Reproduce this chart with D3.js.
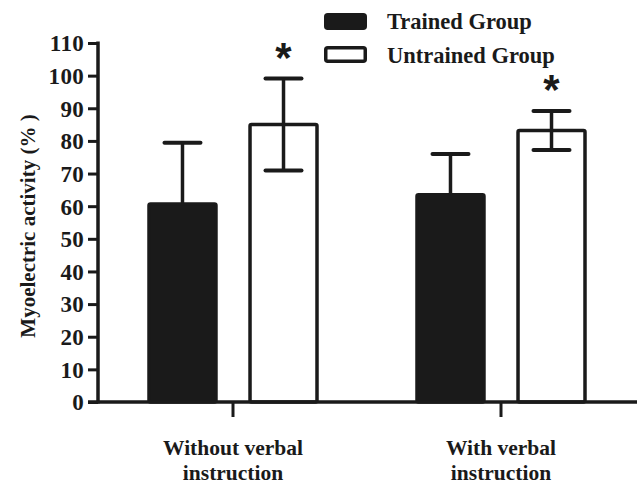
<!DOCTYPE html>
<html><head><meta charset="utf-8">
<script src="https://cdn.jsdelivr.net/npm/d3@7"></script>
<style>body{margin:0;background:#fff}svg{display:block}</style>
</head><body>
<script>
const categories = ["Without verbal|instruction", "With verbal|instruction"];
const seriesNames = ["Trained Group", "Untrained Group"];
const trainedMeans = [60.7, 63.5];
const trainedErr = [18.7, 12.5];
const untrainedMeans = [85, 83.2];
const untrainedErr = [14.1, 6];
const significant = [true, true];
const yTicks = [0,10,20,30,40,50,60,70,80,90,100,110];

const W = 641, H = 485;
const ink = "#1a1a1a";
const serif = "'Liberation Serif','Times New Roman',serif";
const svg = d3.select("body").append("svg").attr("width", W).attr("height", H);

const y = d3.scaleLinear().domain([0, 110]).range([402, 43]);
const groupCenters = [233, 501];
const x1 = d3.scaleBand().domain(seriesNames).range([-84, 84]).paddingInner(0.337).paddingOuter(0);

// y axis
const yAxis = d3.axisLeft(y).tickValues(yTicks).tickSize(10).tickPadding(4);
const gy = svg.append("g").attr("transform", "translate(98,0)").call(yAxis);
gy.select(".domain").attr("stroke", ink).attr("stroke-width", 3.5).attr("d", `M0,${y(110)-1.5}V${y(0)+1.5}`);
gy.selectAll(".tick line").attr("stroke", ink).attr("stroke-width", 3);
gy.selectAll(".tick text").style("font-size", "23px").style("font-family", serif).style("font-weight", "bold")
  .style("letter-spacing", "0.3px").attr("fill", ink).attr("dy", "0.34em");

const data = categories.map((c, i) => ([
  {cat: c, i, s: seriesNames[0], v: trainedMeans[i], e: trainedErr[i], fill: ink},
  {cat: c, i, s: seriesNames[1], v: untrainedMeans[i], e: untrainedErr[i], fill: "#fff"}
]));

const groups = svg.selectAll("g.grp").data(data).enter().append("g")
  .attr("transform", (d, i) => `translate(${groupCenters[i]},0)`);

groups.each(function(d) {
  const g = d3.select(this);
  d.forEach(b => {
    const cx = x1(b.s) + x1.bandwidth() / 2;
    const capW = 36;
    g.append("rect")
      .attr("x", x1(b.s)).attr("y", y(b.v)).attr("width", x1.bandwidth()).attr("height", y(0) - y(b.v))
      .attr("fill", b.fill).attr("stroke", ink).attr("stroke-width", 3.5).attr("rx", 1.5);
    const yTop = y(b.v + b.e);
    const yBot = b.fill === "#fff" ? y(b.v - b.e) : y(b.v);
    g.append("line").attr("x1", cx).attr("x2", cx).attr("y1", yTop).attr("y2", yBot)
      .attr("stroke", ink).attr("stroke-width", 3.5);
    g.append("line").attr("x1", cx - capW/2).attr("x2", cx + capW/2).attr("y1", yTop).attr("y2", yTop)
      .attr("stroke", ink).attr("stroke-width", 4).attr("stroke-linecap", "round");
    if (b.fill === "#fff") {
      g.append("line").attr("x1", cx - capW/2).attr("x2", cx + capW/2).attr("y1", yBot).attr("y2", yBot)
        .attr("stroke", ink).attr("stroke-width", 4).attr("stroke-linecap", "round");
    }
  });
  const ub = d[1];
  if (significant[d[0].i]) {
    g.append("text").attr("x", x1(ub.s) + x1.bandwidth()/2).attr("y", y(ub.v + ub.e) - 7)
      .attr("text-anchor", "middle").style("font-family", "'Liberation Sans',Arial,sans-serif")
      .style("font-size", "42px").style("font-weight", "bold").attr("fill", ink).text("*");
  }
});

// x axis line
svg.append("line").attr("x1", 88).attr("x2", 637).attr("y1", y(0)).attr("y2", y(0)).attr("stroke", ink).attr("stroke-width", 3.5);
groupCenters.forEach((cx, i) => {
  svg.append("line").attr("x1", cx).attr("x2", cx).attr("y1", y(0)).attr("y2", y(0) + 15).attr("stroke", ink).attr("stroke-width", 3);
  const lines = categories[i].split("|");
  const t = svg.append("text").attr("x", cx).attr("y", 455).attr("text-anchor", "middle")
    .style("font-family", serif).style("font-weight", "bold").style("font-size", "21.5px").attr("fill", ink);
  lines.forEach((l, k) => t.append("tspan").attr("x", cx).attr("dy", k === 0 ? 0 : 25).text(l));
});

// y label
svg.append("text").attr("transform", "translate(35,226) rotate(-90)").attr("text-anchor", "middle")
  .style("font-family", serif).style("font-weight", "bold").style("font-size", "21px").attr("fill", ink)
  .text("Myoelectric activity (% )");

// legend
const leg = svg.append("g");
seriesNames.forEach((s, i) => {
  leg.append("rect").attr("x", 325.75).attr("y", 14.75 + i * 33).attr("width", 39.5).attr("height", 13.5).attr("rx", 2)
    .attr("fill", i === 0 ? ink : "#fff").attr("stroke", ink).attr("stroke-width", 3.5);
  leg.append("text").attr("x", 387).attr("y", 29 + i * 33.5)
    .style("font-family", serif).style("font-weight", "bold").style("font-size", "22.5px").attr("fill", ink).text(s);
});
</script>
</body></html>
